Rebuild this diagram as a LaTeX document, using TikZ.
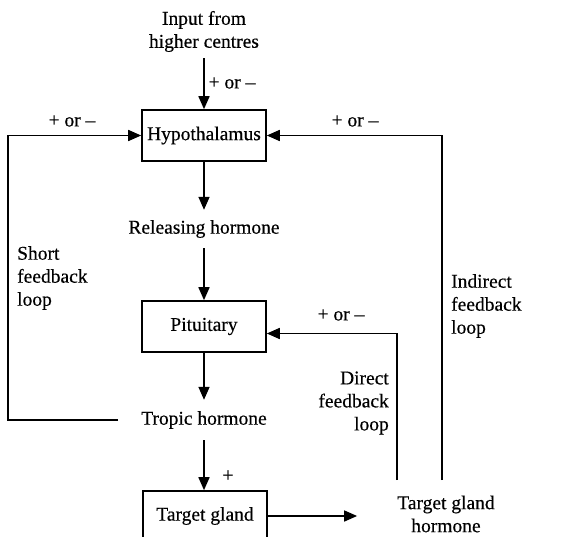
\documentclass[tikz,border=0pt]{standalone}
\usepackage{fontspec}
\setmainfont{Liberation Serif}[FakeBold=0.4]
\usetikzlibrary{arrows.meta}
\begin{document}
\begin{tikzpicture}[x=1pt,y=-1pt,
  txt/.style={inner sep=0pt, font=\fontsize{19.5}{23}\selectfont},
  box/.style={txt, draw, line width=1.6pt, minimum width=124pt, minimum height=51pt},
  conn/.style={line width=1.6pt},
  arr/.style={conn, -{Triangle[length=13pt,width=11pt]}},
  ]
\useasboundingbox (0,0) rectangle (573,537);
\clip (0,0) rectangle (573,537);

% main chain
\node[txt, align=center] (input) at (204,31.5) {Input from\\higher centres};
\node[box] (hyp) at (204,135.5) {Hypothalamus};
\node[txt, minimum height=38pt] (rel) at (204,229) {Releasing hormone};
\node[box] (pit) at (204,326.5) {Pituitary};
\node[txt, minimum height=40pt] (trop) at (204,420) {Tropic hormone};
\node[box, minimum height=50pt] (tg) at (205,516) {Target gland};
\node[txt, align=center] (tgh) at (446,514) {Target gland\\hormone};

% free ends of the feedback lines
\coordinate (indirect) at (442,480);
\coordinate (direct) at (397,480);

% labels
\node[txt] (pmtop) at (232,83) {+ or –};
\node[txt] (pmleft) at (72,121) {+ or –};
\node[txt] (pmright) at (355,121) {+ or –};
\node[txt] (pmpit) at (341,315) {+ or –};
\node[txt] (plus) at (228,476) {+};
\node[txt, align=left, anchor=west] (short) at (17,278) {Short\\feedback\\loop};
\node[txt, align=left, anchor=west] (ind) at (451,306) {Indirect\\feedback\\loop};
\node[txt, align=right, anchor=east] (dir) at (389,403) {Direct\\feedback\\loop};

% connectors
\draw[arr] ([yshift=-6pt]input.south) -- (hyp.north);
\draw[arr] (hyp.south) -- (rel.north);
\draw[arr] (rel.south) -- (pit.north);
\draw[arr] (pit.south) -- (trop.north);
\draw[arr] (trop.south) -- (trop.south |- tg.north);
\draw[arr] (tg.east) -- ([xshift=-40pt]tgh.west |- tg.east);

\draw[arr] ([xshift=-23pt]trop.west) -- ++(-110,0) |- (hyp.west);
\draw[arr] (indirect) |- (hyp.east);
\draw[arr] (direct) |- ([yshift=-7pt]pit.east);
\end{tikzpicture}
\end{document}
